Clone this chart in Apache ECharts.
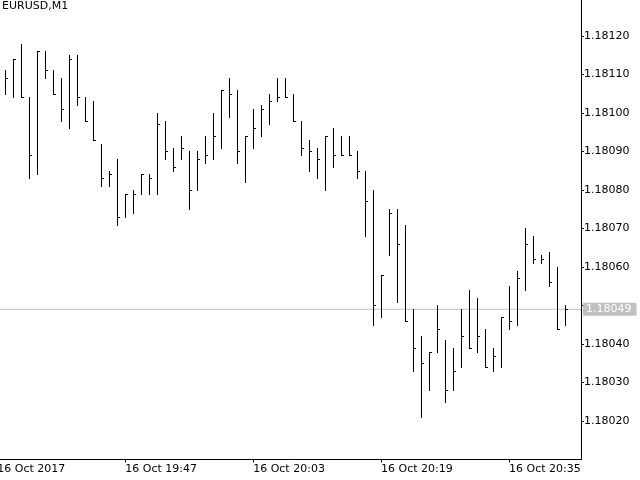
<!DOCTYPE html>
<html>
<head>
<meta charset="utf-8">
<script src="https://cdn.jsdelivr.net/npm/echarts@6/dist/echarts.min.js"></script>
<style>
html,body{margin:0;padding:0;background:#fff;}
#chart{width:640px;height:480px;}
</style>
</head>
<body>
<div id="chart"></div>
<script>
// Bar times (M1), one per bar
const times = ['19:32','19:33','19:34','19:35','19:36','19:37','19:38','19:39','19:40','19:41','19:42','19:43','19:44','19:45','19:46','19:47','19:48','19:49','19:50','19:51','19:52','19:53','19:54','19:55','19:56','19:57','19:58','19:59','20:00','20:01','20:02','20:03','20:04','20:05','20:06','20:07','20:08','20:09','20:10','20:11','20:12','20:13','20:14','20:15','20:16','20:17','20:18','20:19','20:20','20:21','20:22','20:23','20:24','20:25','20:26','20:27','20:28','20:29','20:30','20:31','20:32','20:33','20:34','20:35','20:36','20:37','20:38','20:39','20:40','20:41','20:42'];
const high = [1.18111,1.18114,1.18118,1.18104,1.18116,1.18116,1.18111,1.18109,1.18115,1.18115,1.18104,1.18103,1.18092,1.18085,1.18088,1.18079,1.18080,1.18084,1.18084,1.18100,1.18098,1.18091,1.18094,1.18090,1.18090,1.18094,1.18100,1.18106,1.18109,1.18106,1.18094,1.18101,1.18102,1.18105,1.18109,1.18109,1.18105,1.18098,1.18093,1.18091,1.18094,1.18096,1.18094,1.18094,1.18090,1.18085,1.18080,1.18058,1.18075,1.18075,1.18071,1.18049,1.18042,1.18038,1.18050,1.18041,1.18039,1.18049,1.18054,1.18052,1.18044,1.18039,1.18047,1.18055,1.18059,1.18070,1.18068,1.18063,1.18064,1.18060,1.18050];
const low = [1.18105,1.18104,1.18104,1.18083,1.18084,1.18109,1.18105,1.18098,1.18096,1.18102,1.18098,1.18093,1.18081,1.18081,1.18071,1.18073,1.18074,1.18079,1.18079,1.18079,1.18088,1.18085,1.18088,1.18075,1.18080,1.18087,1.18088,1.18091,1.18099,1.18087,1.18082,1.18091,1.18094,1.18097,1.18103,1.18104,1.18098,1.18089,1.18085,1.18083,1.18080,1.18086,1.18089,1.18089,1.18083,1.18068,1.18045,1.18047,1.18063,1.18051,1.18046,1.18033,1.18021,1.18028,1.18038,1.18025,1.18028,1.18034,1.18039,1.18038,1.18034,1.18033,1.18034,1.18044,1.18045,1.18054,1.18061,1.18061,1.18055,1.18044,1.18045];
const close = [1.18109,1.18114,1.18104,1.18089,1.18116,1.18111,1.18105,1.18101,1.18114,1.18104,1.18098,1.18093,1.18083,1.18084,1.18073,1.18079,1.18079,1.18084,1.18083,1.18097,1.18090,1.18086,1.18091,1.18080,1.18088,1.18089,1.18094,1.18106,1.18105,1.18090,1.18094,1.18096,1.18101,1.18103,1.18104,1.18104,1.18098,1.18091,1.18090,1.18088,1.18094,1.18089,1.18089,1.18089,1.18085,1.18077,1.18050,1.18058,1.18074,1.18066,1.18046,1.18039,1.18035,1.18038,1.18044,1.18028,1.18033,1.18042,1.18039,1.18042,1.18034,1.18037,1.18047,1.18046,1.18057,1.18066,1.18062,1.18062,1.18056,1.18044,1.18049];
// Axis slots: one empty minute before the first bar, two after the last
const xCategories = ['19:31'].concat(times, ['20:43','20:44']);
const xTickLabels = {'19:31':'16 Oct 2017','19:47':'16 Oct 19:47','20:03':'16 Oct 20:03','20:19':'16 Oct 20:19','20:35':'16 Oct 20:35'};
const title = 'EURUSD,M1';

const FONT = 'DejaVu Sans';
const data = times.map((t, i) => [i + 1, high[i], low[i], close[i]]);
const lastPrice = close[close.length - 1];
const lastIdx = xCategories.length - 1;

const chart = echarts.init(document.getElementById('chart'), null, {renderer: 'canvas'});
chart.setOption({
  animation: false,
  backgroundColor: '#fff',
  title: {
    text: title, left: 2, top: 1, padding: 0,
    textStyle: {fontFamily: FONT, fontSize: 11, fontWeight: 'normal', color: '#000'}
  },
  grid: {left: -2.7, right: 59, top: -2.7, bottom: 20.5, containLabel: false, outerBoundsMode: 'none'},
  xAxis: {
    type: 'category',
    data: xCategories,
    boundaryGap: false,
    axisLine: {show: true, lineStyle: {color: '#000', width: 1}},
    axisTick: {show: true, interval: 15, length: 3, lineStyle: {color: '#000'}},
    axisLabel: {
      interval: 15, align: 'left', margin: 4,
      fontFamily: FONT, fontSize: 11, color: '#000',
      formatter: v => xTickLabels[v] || ''
    },
    splitLine: {show: false}
  },
  yAxis: {
    type: 'value',
    position: 'right',
    min: 1.1801, max: 1.1813, interval: 0.0001,
    axisLine: {show: true, lineStyle: {color: '#000', width: 1}},
    axisTick: {show: true, length: 3, lineStyle: {color: '#000'}},
    axisLabel: {
      margin: 3, fontFamily: FONT, fontSize: 11, color: '#000',
      showMinLabel: false, showMaxLabel: false,
      // the current-price box covers the nearest grid label
      formatter: v => (Math.abs(v - lastPrice) < 0.00005 ? '' : v.toFixed(5))
    },
    splitLine: {show: false}
  },
  series: [{
    // current (last close) price line across the plot
    type: 'line',
    data: [[0, lastPrice], [lastIdx, lastPrice]],
    silent: true,
    symbol: 'none',
    z: 1,
    lineStyle: {color: '#c0c0c0', width: 1, type: 'solid'},
    endLabel: {
      show: true, distance: 2,
      formatter: () => lastPrice.toFixed(5),
      color: '#fff', backgroundColor: '#c0c0c0',
      padding: [1, 5, 1, 3], fontFamily: FONT, fontSize: 11
    }
  }, {
    type: 'custom',
    data: data,
    encode: {x: 0, y: [1, 2, 3]},
    z: 3,
    renderItem: function (params, api) {
      const k = api.value(0);
      const pH = api.coord([k, api.value(1)]);
      const pL = api.coord([k, api.value(2)]);
      const pC = api.coord([k, api.value(3)]);
      const x = Math.round(pH[0]) + 0.5;
      const yH = Math.round(pH[1]);
      const yL = Math.round(pL[1]) + 1;
      const yC = Math.round(pC[1]) + 0.5;
      return {
        type: 'group',
        children: [
          {type: 'line', shape: {x1: x, y1: yH, x2: x, y2: yL}, style: {stroke: '#000', lineWidth: 1}},
          {type: 'line', shape: {x1: x - 0.5, y1: yC, x2: x + 2.5, y2: yC}, style: {stroke: '#000', lineWidth: 1}}
        ]
      };
    }
  }]
});
</script>
</body>
</html>
